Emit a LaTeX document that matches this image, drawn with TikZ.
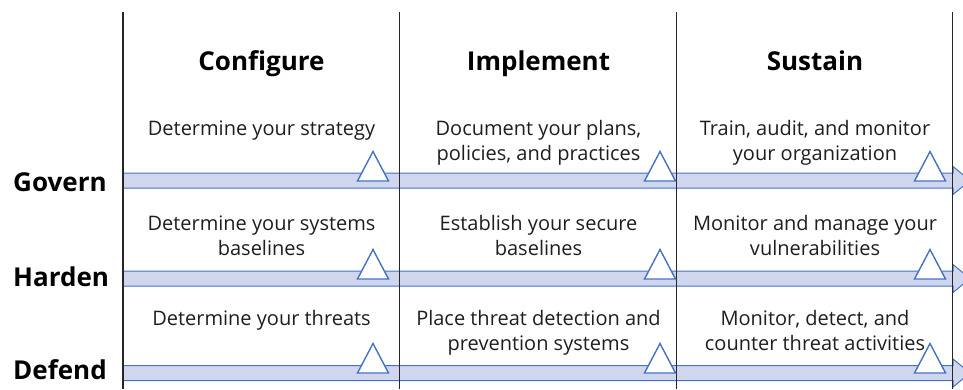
\documentclass[tikz,border=0pt]{standalone}
\usepackage{fontspec}
\setmainfont{Open Sans}
\definecolor{arrowblue}{HTML}{4472C4}
\definecolor{barfill}{HTML}{CFD6EE}
\definecolor{txt}{HTML}{1E1E1E}
\begin{document}
\begin{tikzpicture}[x=1pt,y=-1pt,
  bararrow/.style={draw=arrowblue, fill=barfill, line width=1pt, line join=miter},
  tri/.style={draw=arrowblue, fill=white, line width=1.4pt, line join=miter},
  divider/.style={draw=black!85, line width=1.3pt},
  head/.style={font=\fontsize{26}{30}\selectfont\bfseries, anchor=base, inner sep=0pt, text=black},
  cell/.style={font=\fontsize{20}{25}\selectfont, align=center, anchor=base, inner sep=0pt, text=txt},
  rowlab/.style={font=\fontsize{26}{30}\selectfont\bfseries, anchor=base west, inner sep=0pt, text=black}]
\useasboundingbox (0,0) rectangle (963,389);
\clip (0,0) rectangle (963,389);
% bars
\foreach \c/\n in {180.5/gov,278.5/har,373/def}{
  \coordinate (\n start) at (123,\c);
  \coordinate (\n end) at (970,\c);
  \path[bararrow] (123,\c-7.5) -- (953,\c-7.5) -- (953,\c-14) -- (\n end) -- (953,\c+14) -- (953,\c+7.5) -- (\n start |- 0,\c+7.5) -- cycle;
}
% dividers
\foreach \x/\n in {123/d0,399.5/d1,676.5/d2,952.5/d3}{
  \coordinate (\n top) at (\x,12);
  \coordinate (\n bot) at (\x,389);
  \draw[divider] (\n top) -- (\n bot);
}
% triangles
\foreach \b in {181,279,373}{
  \foreach \x in {373,660,930}{
    \path[tri] (\x-15.5,\b) -- (\x,\b-29.5) -- (\x+15.5,\b) -- cycle;
  }
}
% headings
\node[head] (h1) at (261.5,70) {Configure};
\node[head] (h2) at (538.5,70) {Implement};
\node[head] (h3) at (815,70) {Sustain};
% row labels
\node[rowlab] (lg) at (13,191) {Govern};
\node[rowlab] (lh) at (13,286) {Harden};
\node[rowlab] (ld) at (13,379) {Defend};
% cells (base anchor = baseline of last line)
\node[cell] (c11) at (261.5,135) {Determine your strategy};
\node[cell] (c12) at (538.5,160) {Document your plans,\\policies, and practices};
\node[cell] (c13) at (815,160) {Train, audit, and monitor\\your organization};
\node[cell] (c21) at (261.5,255) {Determine your systems\\baselines};
\node[cell] (c22) at (538.5,255) {Establish your secure\\baselines};
\node[cell] (c23) at (815,255) {Monitor and manage your\\vulnerabilities};
\node[cell] (c31) at (261.5,325) {Determine your threats};
\node[cell] (c32) at (538.5,350) {Place threat detection and\\prevention systems};
\node[cell] (c33) at (815,350) {Monitor, detect, and\\counter threat activities};
\end{tikzpicture}
\end{document}
